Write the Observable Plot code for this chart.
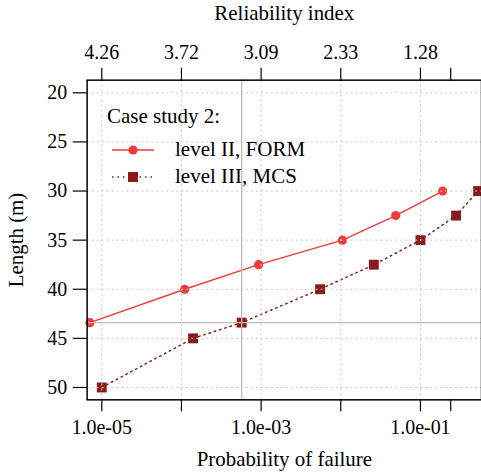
<!DOCTYPE html>
<html>
<head>
<meta charset="utf-8">
<script src="https://cdn.jsdelivr.net/npm/d3@7"></script>
<script src="https://cdn.jsdelivr.net/npm/@observablehq/plot@0.6"></script>
<style>
  html, body { margin: 0; padding: 0; background: #fff; overflow: hidden; }
  #wrap { position: relative; width: 481px; height: 474px; overflow: hidden; font-family: "Liberation Serif", "Times New Roman", serif; }
  #chart svg, #chart svg text { font-family: "Liberation Serif", "Times New Roman", serif !important; }
  #legend { position: absolute; left: 107px; top: 103px; font-size: 21px; color: #000; line-height: 27px; }
  #legend .row { display: flex; align-items: center; }
  #legend svg { margin-left: 4px; margin-right: 20px; }
</style>
</head>
<body>
<div id="wrap"><div id="chart"></div><div id="legend"></div></div>
<script>
// ---- data ----
const formPf = [7.1e-6, 1.1e-4, 9.3e-4, 1.05e-2, 0.049, 0.19];
const formLength = [43.4, 40, 37.5, 35, 32.5, 30];
const mcsPf = [1.0e-5, 1.4e-4, 5.7e-4, 5.5e-3, 0.026, 0.1, 0.28, 0.53];
const mcsLength = [50, 45, 43.4, 40, 37.5, 35, 32.5, 30];
const pfTicks = [1e-5, 1e-4, 1e-3, 1e-2, 1e-1, 0.24];
const pfTickLabels = ["1.0e-05", "", "1.0e-03", "", "1.0e-01", ""];
const betaTickLabels = ["4.26", "3.72", "3.09", "2.33", "1.28", ""];
const gridPf = [1e-5, 1e-4, 1e-3, 1e-2, 1e-1];
const lengthTicks = [20, 25, 30, 35, 40, 45, 50];
const refPf = [5.7e-4];
const refLength = [43.4];
const seriesNames = ["level II, FORM", "level III, MCS"];
const legendTitle = "Case study 2:";

const colForm = "#EE3B3B";
const colMcs = "#8B1A1A";

const form = formPf.map((p, i) => ({pf: p, len: formLength[i]}));
const mcs = mcsPf.map((p, i) => ({pf: p, len: mcsLength[i]}));
const pfLabelOf = new Map(pfTicks.map((v, i) => [v, pfTickLabels[i]]));
const betaLabelOf = new Map(pfTicks.map((v, i) => [v, betaTickLabels[i]]));

const fontFamily = "Liberation Serif";

const chart = Plot.plot({
  width: 483,
  height: 474,
  marginLeft: 87,
  marginRight: 0,
  marginTop: 80,
  marginBottom: 73,
  style: {fontFamily, fontSize: "20px", color: "#000", background: "transparent"},
  x: {type: "log", domain: [6.55e-6, 0.584]},
  y: {domain: [18.71, 51.26], reverse: true},
  marks: [
    Plot.line(form, {x: "pf", y: "len", stroke: colForm, strokeWidth: 1.4}),
    Plot.dot(form, {x: "pf", y: "len", r: 4.6, fill: colForm, stroke: "none"}),
    Plot.line(mcs, {x: "pf", y: "len", stroke: colMcs, strokeWidth: 1.5, strokeDasharray: "1.5,4"}),
    Plot.dot(mcs, {x: "pf", y: "len", symbol: "square", r: 5.6, fill: colMcs, stroke: "none"}),
    Plot.gridX(gridPf, {stroke: "#c8c8c8", strokeOpacity: 1, strokeDasharray: "2,3", strokeWidth: 1}),
    Plot.gridY(lengthTicks, {stroke: "#c8c8c8", strokeOpacity: 1, strokeDasharray: "2,3", strokeWidth: 1}),
    Plot.ruleX(refPf, {stroke: "#bdbdbd", strokeWidth: 1.3}),
    Plot.ruleY(refLength, {stroke: "#bdbdbd", strokeWidth: 1.3}),
    Plot.frame({stroke: "#000", strokeWidth: 1.5}),
    Plot.axisX(pfTicks, {
      anchor: "bottom", tickSize: 12, tickPadding: 8, strokeWidth: 1.2,
      tickFormat: d => pfLabelOf.get(d), fontFamily,
      label: "Probability of failure", labelArrow: "none", labelAnchor: "center", labelOffset: 66, fontSize: 20
    }),
    Plot.axisX(pfTicks, {
      anchor: "top", tickSize: 13, tickPadding: 8, strokeWidth: 1.2,
      tickFormat: d => betaLabelOf.get(d), fontFamily,
      label: "Reliability index", labelArrow: "none", labelAnchor: "center", labelOffset: 75, fontSize: 20
    }),
    Plot.axisY(lengthTicks, {
      anchor: "left", tickSize: 14, tickPadding: 6, strokeWidth: 1.2,
      tickFormat: d => String(d), fontFamily,
      label: "Length (m)", labelArrow: "none", labelAnchor: "center", labelOffset: 79, fontSize: 20
    })
  ]
});
// axis titles a touch larger than tick labels
d3.select(chart).selectAll('g[aria-label$="axis label"] text').attr("font-size", 21).style("font-size", "21px");
document.getElementById("chart").appendChild(chart);

// ---- legend ----
const legend = document.getElementById("legend");
const t = document.createElement("div");
t.textContent = legendTitle;
t.style.marginBottom = "6px";
legend.appendChild(t);
const specs = [
  {name: seriesNames[0], color: colForm, dash: null, shape: "circle"},
  {name: seriesNames[1], color: colMcs, dash: "1.5,4", shape: "square"}
];
for (const s of specs) {
  const row = document.createElement("div");
  row.className = "row";
  const ns = "http://www.w3.org/2000/svg";
  const svg = document.createElementNS(ns, "svg");
  svg.setAttribute("width", 44); svg.setAttribute("height", 14);
  const ln = document.createElementNS(ns, "line");
  ln.setAttribute("x1", 1); ln.setAttribute("x2", 43); ln.setAttribute("y1", 7); ln.setAttribute("y2", 7);
  ln.setAttribute("stroke", s.color); ln.setAttribute("stroke-width", 1.5);
  if (s.dash) ln.setAttribute("stroke-dasharray", s.dash);
  svg.appendChild(ln);
  if (s.shape === "circle") {
    const c = document.createElementNS(ns, "circle");
    c.setAttribute("cx", 22); c.setAttribute("cy", 7); c.setAttribute("r", 4.6); c.setAttribute("fill", s.color);
    svg.appendChild(c);
  } else {
    const r = document.createElementNS(ns, "rect");
    r.setAttribute("x", 17); r.setAttribute("y", 2); r.setAttribute("width", 10); r.setAttribute("height", 10); r.setAttribute("fill", s.color);
    svg.appendChild(r);
  }
  row.appendChild(svg);
  const tx = document.createElement("span");
  tx.textContent = s.name;
  row.appendChild(tx);
  legend.appendChild(row);
}
</script>
</body>
</html>
